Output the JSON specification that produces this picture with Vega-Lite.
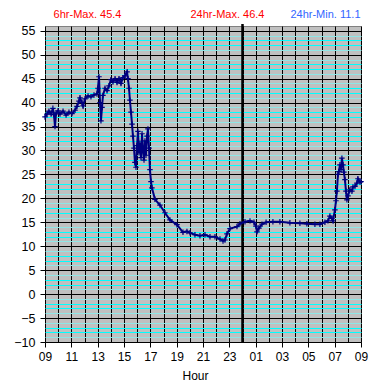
{
  "$schema": "https://vega.github.io/schema/vega-lite/v6.json",
  "width": 316,
  "height": 316,
  "autosize": {"type": "none"},
  "padding": {"left": 45, "top": 26, "right": 24, "bottom": 46},
  "background": "white",
  "config": {
    "view": {"fill": "#c0c0c0", "stroke": "#808080", "strokeWidth": 1},
    "font": "Liberation Sans"
  },
  "data": {
    "values": [
      {"hours_after_0900": 0.0, "reading": 37.0},
      {"hours_after_0900": 0.15, "reading": 37.6},
      {"hours_after_0900": 0.3, "reading": 38.2},
      {"hours_after_0900": 0.46, "reading": 37.6},
      {"hours_after_0900": 0.6, "reading": 38.8},
      {"hours_after_0900": 0.68, "reading": 37.5},
      {"hours_after_0900": 0.76, "reading": 35.0},
      {"hours_after_0900": 0.84, "reading": 37.8},
      {"hours_after_0900": 0.99, "reading": 38.3},
      {"hours_after_0900": 1.14, "reading": 37.6},
      {"hours_after_0900": 1.37, "reading": 38.2},
      {"hours_after_0900": 1.6, "reading": 37.4},
      {"hours_after_0900": 1.82, "reading": 38.0},
      {"hours_after_0900": 2.05, "reading": 37.7},
      {"hours_after_0900": 2.28, "reading": 38.4},
      {"hours_after_0900": 2.43, "reading": 39.2},
      {"hours_after_0900": 2.58, "reading": 40.3},
      {"hours_after_0900": 2.66, "reading": 41.0},
      {"hours_after_0900": 2.81, "reading": 40.0},
      {"hours_after_0900": 2.89, "reading": 39.3},
      {"hours_after_0900": 3.04, "reading": 40.8},
      {"hours_after_0900": 3.27, "reading": 41.4},
      {"hours_after_0900": 3.49, "reading": 41.2},
      {"hours_after_0900": 3.72, "reading": 41.6},
      {"hours_after_0900": 3.95, "reading": 41.8},
      {"hours_after_0900": 4.02, "reading": 43.0},
      {"hours_after_0900": 4.1, "reading": 45.4},
      {"hours_after_0900": 4.18, "reading": 40.0},
      {"hours_after_0900": 4.25, "reading": 36.2},
      {"hours_after_0900": 4.33, "reading": 39.0},
      {"hours_after_0900": 4.4, "reading": 41.5},
      {"hours_after_0900": 4.56, "reading": 43.0},
      {"hours_after_0900": 4.71, "reading": 42.5},
      {"hours_after_0900": 4.86, "reading": 43.5},
      {"hours_after_0900": 5.01, "reading": 44.8},
      {"hours_after_0900": 5.16, "reading": 44.3},
      {"hours_after_0900": 5.32, "reading": 45.0},
      {"hours_after_0900": 5.47, "reading": 44.2},
      {"hours_after_0900": 5.62, "reading": 45.0},
      {"hours_after_0900": 5.77, "reading": 44.0},
      {"hours_after_0900": 5.92, "reading": 45.2},
      {"hours_after_0900": 6.07, "reading": 45.6},
      {"hours_after_0900": 6.23, "reading": 46.4},
      {"hours_after_0900": 6.3, "reading": 45.0},
      {"hours_after_0900": 6.38, "reading": 43.0},
      {"hours_after_0900": 6.45, "reading": 40.5},
      {"hours_after_0900": 6.53, "reading": 38.0},
      {"hours_after_0900": 6.61, "reading": 35.5},
      {"hours_after_0900": 6.68, "reading": 33.0},
      {"hours_after_0900": 6.76, "reading": 30.5},
      {"hours_after_0900": 6.83, "reading": 27.5},
      {"hours_after_0900": 6.91, "reading": 26.5},
      {"hours_after_0900": 6.99, "reading": 31.0},
      {"hours_after_0900": 7.06, "reading": 34.0},
      {"hours_after_0900": 7.14, "reading": 29.5},
      {"hours_after_0900": 7.21, "reading": 31.5},
      {"hours_after_0900": 7.29, "reading": 28.5},
      {"hours_after_0900": 7.37, "reading": 33.5},
      {"hours_after_0900": 7.44, "reading": 30.0},
      {"hours_after_0900": 7.52, "reading": 28.0},
      {"hours_after_0900": 7.59, "reading": 32.0},
      {"hours_after_0900": 7.67, "reading": 29.0},
      {"hours_after_0900": 7.75, "reading": 33.0},
      {"hours_after_0900": 7.82, "reading": 34.5},
      {"hours_after_0900": 7.9, "reading": 30.5},
      {"hours_after_0900": 7.97, "reading": 26.0},
      {"hours_after_0900": 8.05, "reading": 23.5},
      {"hours_after_0900": 8.12, "reading": 22.2},
      {"hours_after_0900": 8.35, "reading": 19.8},
      {"hours_after_0900": 8.73, "reading": 18.6},
      {"hours_after_0900": 9.11, "reading": 17.0},
      {"hours_after_0900": 9.49, "reading": 15.5},
      {"hours_after_0900": 10.02, "reading": 14.5},
      {"hours_after_0900": 10.48, "reading": 12.9},
      {"hours_after_0900": 10.78, "reading": 13.1},
      {"hours_after_0900": 11.01, "reading": 12.8},
      {"hours_after_0900": 11.39, "reading": 12.4},
      {"hours_after_0900": 11.77, "reading": 12.2},
      {"hours_after_0900": 12.15, "reading": 12.4},
      {"hours_after_0900": 12.53, "reading": 12.0},
      {"hours_after_0900": 12.91, "reading": 12.0},
      {"hours_after_0900": 13.29, "reading": 11.5},
      {"hours_after_0900": 13.52, "reading": 11.1},
      {"hours_after_0900": 13.67, "reading": 11.3},
      {"hours_after_0900": 13.82, "reading": 12.6},
      {"hours_after_0900": 14.05, "reading": 13.7},
      {"hours_after_0900": 14.58, "reading": 14.1},
      {"hours_after_0900": 14.81, "reading": 14.7},
      {"hours_after_0900": 15.19, "reading": 15.1},
      {"hours_after_0900": 15.57, "reading": 15.3},
      {"hours_after_0900": 15.87, "reading": 15.0},
      {"hours_after_0900": 16.02, "reading": 14.2},
      {"hours_after_0900": 16.1, "reading": 13.0},
      {"hours_after_0900": 16.25, "reading": 13.8},
      {"hours_after_0900": 16.48, "reading": 14.6},
      {"hours_after_0900": 16.79, "reading": 15.0},
      {"hours_after_0900": 17.31, "reading": 15.1},
      {"hours_after_0900": 17.84, "reading": 15.1},
      {"hours_after_0900": 18.6, "reading": 14.9},
      {"hours_after_0900": 19.36, "reading": 14.8},
      {"hours_after_0900": 19.89, "reading": 14.7},
      {"hours_after_0900": 20.5, "reading": 14.6},
      {"hours_after_0900": 20.88, "reading": 14.6},
      {"hours_after_0900": 21.26, "reading": 15.0},
      {"hours_after_0900": 21.49, "reading": 15.3},
      {"hours_after_0900": 21.64, "reading": 16.3},
      {"hours_after_0900": 21.79, "reading": 15.8},
      {"hours_after_0900": 21.87, "reading": 15.3},
      {"hours_after_0900": 22.02, "reading": 17.6},
      {"hours_after_0900": 22.1, "reading": 19.5},
      {"hours_after_0900": 22.17, "reading": 21.5},
      {"hours_after_0900": 22.25, "reading": 25.0},
      {"hours_after_0900": 22.32, "reading": 25.6},
      {"hours_after_0900": 22.4, "reading": 27.0},
      {"hours_after_0900": 22.48, "reading": 26.0},
      {"hours_after_0900": 22.55, "reading": 28.4},
      {"hours_after_0900": 22.63, "reading": 27.0},
      {"hours_after_0900": 22.7, "reading": 25.5},
      {"hours_after_0900": 22.78, "reading": 23.9},
      {"hours_after_0900": 22.86, "reading": 21.5},
      {"hours_after_0900": 22.93, "reading": 19.7},
      {"hours_after_0900": 23.01, "reading": 20.5},
      {"hours_after_0900": 23.16, "reading": 21.8},
      {"hours_after_0900": 23.31, "reading": 21.5},
      {"hours_after_0900": 23.39, "reading": 22.4},
      {"hours_after_0900": 23.54, "reading": 22.5},
      {"hours_after_0900": 23.69, "reading": 23.2},
      {"hours_after_0900": 23.77, "reading": 24.1},
      {"hours_after_0900": 23.92, "reading": 23.4},
      {"hours_after_0900": 24.0, "reading": 23.5}
    ]
  },
  "encoding": {
    "x": {
      "field": "hours_after_0900",
      "type": "quantitative",
      "scale": {"domain": [0, 24], "nice": false, "zero": false},
      "axis": {
        "values": [0,1,2,3,4,5,6,7,8,9,10,11,12,13,14,15,16,17,18,19,20,21,22,23,24],
        "grid": true,
        "gridColor": "black",
        "gridOpacity": 1,
        "gridWidth": 1,
        "domain": false,
        "tickColor": "black",
        "tickSize": 5,
        "tickOpacity": {"condition": {"test": "datum.value % 2 == 1", "value": 0}, "value": 1},
        "labelExpr": "datum.value % 2 == 0 ? (((9 + datum.value) % 24) < 10 ? '0' : '') + ((9 + datum.value) % 24) : ''",
        "labelFont": "Liberation Sans",
        "labelFontSize": 12,
        "labelColor": "black",
        "labelPadding": 4,
        "labelFlush": false,
        "labelOverlap": false,
        "title": "Hour",
        "titleFont": "Liberation Sans",
        "titleFontSize": 12,
        "titleFontWeight": "normal",
        "titleColor": "black",
        "titleX": 150,
        "titleY": 33,
        "titleBaseline": "middle"
      }
    },
    "y": {
      "field": "reading",
      "type": "quantitative",
      "scale": {"domain": [-10, 56], "nice": false, "zero": false},
      "axis": {
        "values": [-10,-9,-8,-7,-6,-5,-4,-3,-2,-1,0,1,2,3,4,5,6,7,8,9,10,11,12,13,14,15,16,17,18,19,20,21,22,23,24,25,26,27,28,29,30,31,32,33,34,35,36,37,38,39,40,41,42,43,44,45,46,47,48,49,50,51,52,53,54,55],
        "grid": true,
        "gridOpacity": 1,
        "gridColor": {
          "condition": [
            {"test": "datum.value % 5 == 0", "value": "black"},
            {"test": "abs(datum.value) % 5 == 2 || abs(datum.value) % 5 == 3", "value": "#00ffff"}
          ],
          "value": "#8fe6e6"
        },
        "domain": false,
        "tickColor": "black",
        "tickSize": 5,
        "tickOpacity": {"condition": {"test": "datum.value % 5 != 0", "value": 0}, "value": 1},
        "labelExpr": "datum.value % 5 == 0 ? datum.label : ''",
        "labelFont": "Liberation Sans",
        "labelFontSize": 12.5,
        "labelColor": "black",
        "labelPadding": 5,
        "labelOverlap": false,
        "labelFlush": false,
        "title": null
      }
    }
  },
  "layer": [
    {
      "transform": [{"filter": "datum.hours_after_0900 == 0"}],
      "mark": {"type": "rule", "color": "black", "strokeWidth": 2.5, "clip": false},
      "encoding": {
        "x": {"datum": 15},
        "y": {"datum": -10},
        "y2": {"datum": 56.4}
      }
    },
    {
      "mark": {"type": "line", "color": "#000080", "strokeWidth": 2}
    },
    {
      "mark": {
        "type": "point",
        "shape": "M-1,0H1M0,-1V1",
        "filled": false,
        "color": "#000080",
        "strokeWidth": 1.2,
        "size": 30,
        "opacity": 1
      }
    },
    {
      "transform": [{"filter": "datum.hours_after_0900 == 0"}],
      "mark": {"type": "text", "color": "#ff0000", "font": "Liberation Sans", "fontSize": 11, "baseline": "middle", "align": "center", "clip": false},
      "encoding": {
        "x": {"datum": 3.23},
        "y": {"datum": 58.2},
        "text": {"value": "6hr-Max. 45.4"}
      }
    },
    {
      "transform": [{"filter": "datum.hours_after_0900 == 0"}],
      "mark": {"type": "text", "color": "#ff0000", "font": "Liberation Sans", "fontSize": 11, "baseline": "middle", "align": "center", "clip": false},
      "encoding": {
        "x": {"datum": 13.86},
        "y": {"datum": 58.2},
        "text": {"value": "24hr-Max. 46.4"}
      }
    },
    {
      "transform": [{"filter": "datum.hours_after_0900 == 0"}],
      "mark": {"type": "text", "color": "#3366ff", "font": "Liberation Sans", "fontSize": 11, "baseline": "middle", "align": "center", "clip": false},
      "encoding": {
        "x": {"datum": 21.3},
        "y": {"datum": 58.2},
        "text": {"value": "24hr-Min. 11.1"}
      }
    }
  ]
}
